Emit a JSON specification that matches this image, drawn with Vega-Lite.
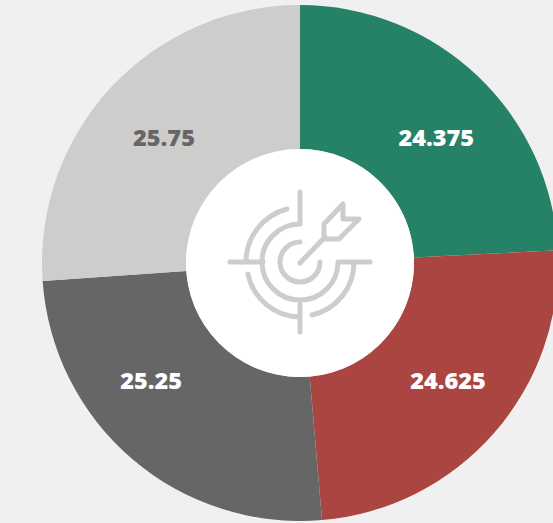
{"$schema":"https://vega.github.io/schema/vega-lite/v6.json","width":553,"height":523,"padding":0,"autosize":{"type":"none"},"background":"#f0f0f0","config":{"view":{"stroke":null},"text":{"font":"Open Sans","fontWeight":800,"fontSize":23.5,"letterSpacing":-2.2,"radius":186,"x":300,"y":263,"baseline":"middle","align":"center"}},"layer":[{"data":{"values":[{"k":"A","share":24.22,"label":24.375,"o":1,"c":"#ffffff"},{"k":"B","share":24.42,"label":24.625,"o":2,"c":"#ffffff"},{"k":"C","share":25.25,"label":25.25,"o":3,"c":"#ffffff"},{"k":"D","share":26.11,"label":25.75,"o":4,"c":"#666666"}]},"transform":[{"stack":"share","groupby":[],"sort":[{"field":"o","order":"ascending"}],"as":["s0","s1"]},{"calculate":"(datum.s0+datum.s1)/2","as":"m"}],"layer":[{"mark":{"type":"arc","innerRadius":114,"outerRadius":258,"x":300,"y":263},"encoding":{"theta":{"field":"s0","type":"quantitative","scale":{"domain":[0,100]}},"theta2":{"field":"s1"},"color":{"field":"k","type":"nominal","legend":null,"scale":{"domain":["A","B","C","D"],"range":["#268266","#ab4541","#666666","#cdcdcb"]}}}},{"transform":[{"filter":"datum.k==='A'"}],"mark":{"type":"text","dx":8,"dy":11},"encoding":{"theta":{"field":"m","type":"quantitative","scale":{"domain":[0,100]}},"text":{"field":"label"},"color":{"field":"c","type":"nominal","scale":null}}},{"transform":[{"filter":"datum.k==='B'"}],"mark":{"type":"text","dx":8,"dy":-3},"encoding":{"theta":{"field":"m","type":"quantitative","scale":{"domain":[0,100]}},"text":{"field":"label"},"color":{"field":"c","type":"nominal","scale":null}}},{"transform":[{"filter":"datum.k==='C'"}],"mark":{"type":"text","dx":-28,"dy":-22},"encoding":{"theta":{"field":"m","type":"quantitative","scale":{"domain":[0,100]}},"text":{"field":"label"},"color":{"field":"c","type":"nominal","scale":null}}},{"transform":[{"filter":"datum.k==='D'"}],"mark":{"type":"text","dx":0,"dy":3},"encoding":{"theta":{"field":"m","type":"quantitative","scale":{"domain":[0,100]}},"text":{"field":"label"},"color":{"field":"c","type":"nominal","scale":null}}}]},{"data":{"values":[{"part":"hub"}]},"mark":{"type":"point","shape":"circle","filled":true,"size":51984,"color":"#ffffff","opacity":1,"x":300,"y":263},"encoding":{}},{"data":{"values":[{"part":"icon"}]},"mark":{"type":"point","filled":false,"size":4,"x":300,"y":262,"stroke":"#cdcdcd","strokeWidth":5,"strokeCap":"round","strokeJoin":"round","opacity":1,"shape":"M0,-70 V-38 A38,38 0 1 0 38,0 H70 M-70,0 H-37 M-13,-53 A55,55 0 0 0 -54,0 M-52,12 A54,54 0 0 0 0,55 M0,38 V70 M12,53 A54,54 0 0 0 54,0 M0,-20 A20,20 0 1 0 20,0 M0,1 L25,-25 M24,-38 L43,-58 L43,-43 L59,-43 L39,-23 L24,-23 Z"},"encoding":{}}]}
